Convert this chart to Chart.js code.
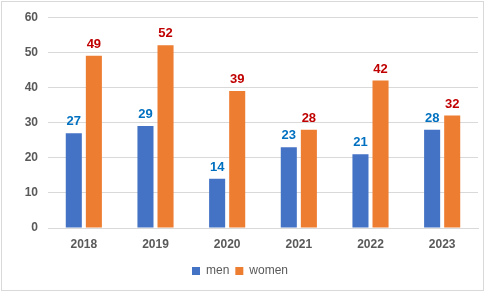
<!DOCTYPE html>
<html>
<head>
<meta charset="utf-8">
<script src="https://cdn.jsdelivr.net/npm/chart.js@4/dist/chart.umd.min.js"></script>
<style>
  html, body { margin: 0; padding: 0; background: #fff; }
  #wrap { width: 485px; height: 292px; }
</style>
</head>
<body>
<div id="wrap"><canvas id="chart" width="485" height="292"></canvas></div>
<script>
// chart data
const years = ['2018', '2019', '2020', '2021', '2022', '2023'];
const men = [27, 29, 14, 23, 21, 28];
const women = [49, 52, 39, 28, 42, 32];
const yTicks = [0, 10, 20, 30, 40, 50, 60];

// draws value labels above each bar, coloured per series
const barLabels = {
    id: 'barLabels',
    afterDatasetsDraw(chart) {
        const ctx = chart.ctx;
        ctx.save();
        ctx.font = 'bold 13px "Liberation Sans", Arial, sans-serif';
        ctx.textAlign = 'center';
        ctx.textBaseline = 'bottom';
        chart.data.datasets.forEach((ds, i) => {
            chart.getDatasetMeta(i).data.forEach((bar, j) => {
                ctx.fillStyle = ds.labelColor;
                ctx.fillText(ds.data[j], bar.x, bar.y - 5);
            });
        });
        ctx.restore();
    }
};

// light frame round the whole chart
const frame = {
    id: 'frame',
    beforeDraw(chart) {
        const ctx = chart.ctx;
        ctx.save();
        ctx.fillStyle = '#fff';
        ctx.fillRect(0, 0, chart.width, chart.height);
        ctx.strokeStyle = '#D9D9D9';
        ctx.lineWidth = 1;
        ctx.strokeRect(1.5, 1.5, 482, 289);
        ctx.restore();
    }
};

const ctx = document.getElementById('chart').getContext('2d');
new Chart(ctx, {
    type: 'bar',
    data: {
        labels: years,
        datasets: [{
            label: 'men',
            data: men,
            backgroundColor: '#4472C4',
            labelColor: '#0070C0',
            categoryPercentage: 0.56,
            barPercentage: 0.8
        }, {
            label: 'women',
            data: women,
            backgroundColor: '#ED7D31',
            labelColor: '#C00000',
            categoryPercentage: 0.56,
            barPercentage: 0.8
        }]
    },
    options: {
        responsive: false,
        animation: false,
        devicePixelRatio: 1,
        layout: { padding: { left: 2, right: 7, top: 10, bottom: 5 } },
        scales: {
            x: {
                afterFit: (axis) => { axis.height = 31; },
                grid: { display: false, drawTicks: false },
                border: { color: '#D9D9D9' },
                ticks: {
                    color: '#595959',
                    font: { family: '"Liberation Sans", Arial, sans-serif', size: 12, weight: 'bold' },
                    padding: 9
                }
            },
            y: {
                min: 0,
                max: 60,
                afterBuildTicks: (axis) => { axis.ticks = yTicks.map(v => ({ value: v })); },
                afterFit: (axis) => { axis.width = 46; },
                grid: { color: '#D9D9D9', drawTicks: false },
                border: { display: false },
                ticks: {
                    color: '#595959',
                    font: { family: '"Liberation Sans", Arial, sans-serif', size: 12, weight: 'bold' },
                    padding: 10
                }
            }
        },
        plugins: {
            legend: {
                position: 'bottom',
                labels: {
                    boxWidth: 8,
                    boxHeight: 8,
                    padding: 6,
                    color: '#595959',
                    font: { family: '"Liberation Sans", Arial, sans-serif', size: 12 }
                }
            },
            tooltip: { enabled: false }
        }
    },
    plugins: [frame, barLabels]
});
</script>
</body>
</html>
